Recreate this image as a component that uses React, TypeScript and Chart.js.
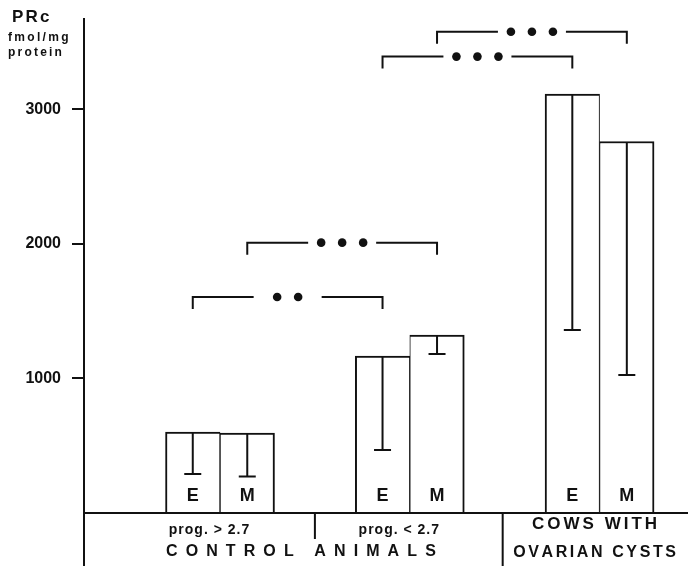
import React, { useEffect, useRef } from 'react';
import { Chart, registerables } from 'chart.js';

Chart.register(...registerables);

// ---- data ----
const groupPositions = [1, 2, 3];
const subgroupLabels = ['prog. > 2.7', 'prog. < 2.7'];
const mainLabelControl = 'CONTROL ANIMALS';
const mainLabelCysts = ['COWS WITH', 'OVARIAN CYSTS'];
const seriesNames = ['E', 'M'];
const meanE = [602, 1167, 3115];
const meanM = [595, 1323, 2762];
const lowerE = [290, 468, 1360];
const lowerM = [271, 1182, 1026];
const yTickValues = [1000, 2000, 3000];
const yTitle = ['PRc', 'fmol/mg', 'protein'];
// significance brackets: [seriesIndex, groupIndex]
const bracketFrom = [[0, 0], [1, 0], [0, 1], [1, 1]];
const bracketTo = [[0, 1], [1, 1], [0, 2], [1, 2]];
const bracketLevel = [1606, 2010, 3393, 3578];
const bracketStars = [2, 3, 3, 3];

const INK = '#111';
const FONT = "'Liberation Sans', Arial, sans-serif";

function drawSpaced(ctx: CanvasRenderingContext2D, text: string, x: number, y: number, spacing: number, align: 'left' | 'center') {
  const chars = Array.from(text);
  const widths = chars.map((c) => ctx.measureText(c).width);
  const total = widths.reduce((a, b) => a + b, 0) + spacing * (chars.length - 1);
  let cx = align === 'center' ? x - total / 2 : x;
  ctx.textAlign = 'left';
  chars.forEach((c, i) => {
    ctx.fillText(c, cx, y);
    cx += widths[i] + spacing;
  });
}

const overlayPlugin = {
  id: 'overlay',
  afterDatasetsDraw(chart: any) {
    const ctx: CanvasRenderingContext2D = chart.ctx;
    const yScale = chart.scales.y;
    const lowers = [lowerE, lowerM];
    ctx.save();
    ctx.strokeStyle = INK;
    ctx.fillStyle = INK;
    ctx.lineWidth = 2;
    [0, 1].forEach((ds) => {
      const meta = chart.getDatasetMeta(ds);
      meta.data.forEach((bar: any, i: number) => {
        const yLow = yScale.getPixelForValue(lowers[ds][i]);
        ctx.beginPath();
        ctx.moveTo(bar.x, bar.y + 1);
        ctx.lineTo(bar.x, yLow);
        ctx.moveTo(bar.x - 8.5, yLow);
        ctx.lineTo(bar.x + 8.5, yLow);
        ctx.stroke();
        ctx.font = `bold 18px ${FONT}`;
        ctx.textAlign = 'center';
        ctx.textBaseline = 'middle';
        ctx.fillText(seriesNames[ds], bar.x, bar.base - 16.5);
      });
    });
    bracketLevel.forEach((lvl, k) => {
      const a = chart.getDatasetMeta(bracketFrom[k][0]).data[bracketFrom[k][1]];
      const b = chart.getDatasetMeta(bracketTo[k][0]).data[bracketTo[k][1]];
      const y = yScale.getPixelForValue(lvl);
      const xc = (a.x + b.x) / 2;
      const gap = 34;
      ctx.beginPath();
      ctx.moveTo(a.x, y + 12);
      ctx.lineTo(a.x, y);
      ctx.lineTo(xc - gap, y);
      ctx.moveTo(xc + gap, y);
      ctx.lineTo(b.x, y);
      ctx.lineTo(b.x, y + 12);
      ctx.stroke();
      const n = bracketStars[k];
      const step = 21;
      for (let s = 0; s < n; s++) {
        const dx = xc + (s - (n - 1) / 2) * step;
        ctx.beginPath();
        ctx.arc(dx, y, 4.3, 0, Math.PI * 2);
        ctx.fill();
      }
    });
    ctx.restore();
  },
  afterDraw(chart: any) {
    const ctx: CanvasRenderingContext2D = chart.ctx;
    const area = chart.chartArea;
    const xScale = chart.scales.x;
    const H = chart.height;
    const g = groupPositions.map((v) => xScale.getPixelForValue(v));
    ctx.save();
    ctx.strokeStyle = INK;
    ctx.fillStyle = INK;
    ctx.lineWidth = 2;
    ctx.beginPath();
    ctx.moveTo(area.left, area.top);
    ctx.lineTo(area.left, H);
    ctx.moveTo(area.left, area.bottom);
    ctx.lineTo(area.right, area.bottom);
    const d1 = (g[0] + g[1]) / 2;
    const d2 = (g[1] + g[2]) / 2 - 2;
    ctx.moveTo(d1, area.bottom);
    ctx.lineTo(d1, area.bottom + 26);
    ctx.moveTo(d2, area.bottom);
    ctx.lineTo(d2, H);
    ctx.stroke();
    ctx.textBaseline = 'alphabetic';
    ctx.font = `bold 14px ${FONT}`;
    subgroupLabels.forEach((lab, i) => {
      drawSpaced(ctx, lab, g[i] - 11, area.bottom + 21, 1.0, 'center');
    });
    ctx.font = `bold 16px ${FONT}`;
    drawSpaced(ctx, mainLabelControl, (g[0] + g[1]) / 2 - 14, area.bottom + 42.5, 8.1, 'center');
    ctx.font = `bold 17px ${FONT}`;
    drawSpaced(ctx, mainLabelCysts[0], g[2] - 5, area.bottom + 15.5, 3, 'center');
    ctx.font = `bold 16px ${FONT}`;
    drawSpaced(ctx, mainLabelCysts[1], g[2] - 5, area.bottom + 44, 2.6, 'center');
    ctx.font = `bold 17px ${FONT}`;
    drawSpaced(ctx, yTitle[0], 12, 21.7, 2.2, 'left');
    ctx.font = `bold 12px ${FONT}`;
    drawSpaced(ctx, yTitle[1], 8, 40.5, 2.3, 'left');
    drawSpaced(ctx, yTitle[2], 8, 55.8, 2.2, 'left');
    ctx.restore();
  },
};

export default function App() {
  const ref = useRef<HTMLCanvasElement>(null);
  useEffect(() => {
    if (!ref.current) return;
    const chart = new Chart(ref.current, {
      type: 'bar',
      data: {
        datasets: [
          {
            label: seriesNames[0],
            data: groupPositions.map((x, i) => ({ x, y: meanE[i] })),
            backgroundColor: '#fff',
            borderColor: INK,
            borderWidth: { top: 2, left: 2, right: 1, bottom: 0 } as any,
            borderSkipped: 'start',
            barThickness: 54.5,
          },
          {
            label: seriesNames[1],
            data: groupPositions.map((x, i) => ({ x, y: meanM[i] })),
            backgroundColor: '#fff',
            borderColor: INK,
            borderWidth: { top: 2, left: 1, right: 2, bottom: 0 } as any,
            borderSkipped: 'start',
            barThickness: 54.5,
          },
        ],
      },
      options: {
        animation: false,
        responsive: true,
        maintainAspectRatio: false,
        devicePixelRatio: 1,
        layout: { padding: { top: 18, bottom: 53, left: 0, right: 0 } },
        plugins: { legend: { display: false }, tooltip: { enabled: false } },
        scales: {
          x: {
            type: 'linear',
            display: false,
            offset: false,
            min: 0.2833,
            max: 3.466,
          },
          y: {
            type: 'linear',
            position: 'left',
            min: 0,
            max: 3680,
            afterBuildTicks: (s: any) => {
              s.ticks = yTickValues.map((v) => ({ value: v }));
            },
            afterFit: (s: any) => {
              s.width = 84;
              s.paddingTop = 0;
              s.paddingBottom = 0;
            },
            border: { display: false },
            grid: {
              display: true,
              drawOnChartArea: false,
              drawTicks: true,
              tickLength: 12,
              lineWidth: 2,
              color: INK,
              tickColor: INK,
            },
            ticks: {
              display: true,
              padding: 11,
              color: INK,
              font: { family: FONT, size: 16, weight: 'bold' },
              callback: (v: any) => String(v),
            },
          },
        },
      },
      plugins: [overlayPlugin],
    });
    return () => chart.destroy();
  }, []);
  return (
    <div style={{ position: 'fixed', left: 0, top: 0, width: 688, height: 566, background: '#fff' }}>
      <canvas ref={ref} />
    </div>
  );
}
